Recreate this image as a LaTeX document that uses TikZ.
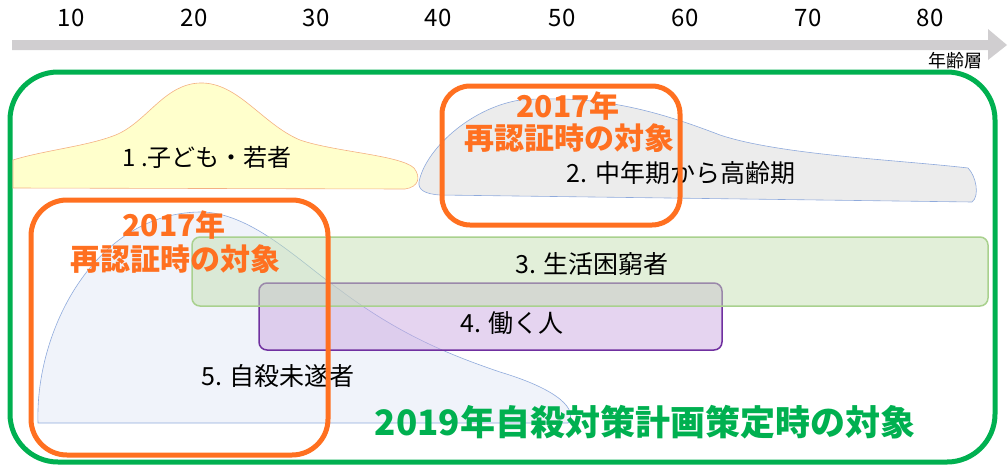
\documentclass[tikz,border=0pt]{standalone}
\usepackage{fontspec}
\setmainfont{Noto Sans CJK JP}
\definecolor{axisgray}{RGB}{208,206,208}
\definecolor{bigGreen}{RGB}{0,176,80}
\definecolor{hiOrange}{RGB}{255,112,32}
\definecolor{yelFill}{RGB}{255,255,204}
\definecolor{yelLine}{RGB}{244,177,131}
\definecolor{grayFill}{RGB}{236,236,236}
\definecolor{blueLine}{RGB}{143,170,220}
\definecolor{blueFill}{RGB}{240,243,250}
\definecolor{grnFill}{RGB}{197,224,180}
\definecolor{grnLine}{RGB}{169,209,142}
\definecolor{purFill}{RGB}{203,169,225}
\definecolor{purLine}{RGB}{112,48,160}
\tikzset{
  tick/.style={font=\fontsize{24}{26}\selectfont, text=black},
  grp/.style={font=\fontsize{25}{28}\selectfont, text=black},
  orangelbl/.style={font=\bfseries\fontsize{30}{34}\selectfont, text=hiOrange, align=center},
  orangebox/.style={draw=hiOrange, line width=5pt, rounded corners=28pt},
  shapeline/.style={line width=0.6pt}
}
\begin{document}
\begin{tikzpicture}[x=1pt,y=-1pt]
\useasboundingbox (0,0) rectangle (1008,466);
% axis
\fill[axisgray] (12,40) -- (988,40) -- (988,29) -- (1007,45) -- (988,60) -- (988,50) -- (12,50) -- cycle;
\foreach \v/\xx in {10/71,20/194,30/316,40/438,50/562,60/685,70/808,80/930}
  \node[tick] (t\v) at (\xx,18) {\v};
\node[font=\fontsize{18}{20}\selectfont] (age) at (955,61) {年齢層};
% green frame
\draw[bigGreen, line width=5pt, rounded corners=48pt] (10,72) rectangle (995,462);
% 1 yellow
\draw[shapeline, draw=yelLine, fill=yelFill]
 (13,160) .. controls (45,150) and (90,146) .. (118,134)
 .. controls (148,120) and (165,84) .. (200,83)
 .. controls (238,82) and (262,124) .. (300,140)
 .. controls (335,152) and (400,155) .. (414,168)
 .. controls (421,177) and (419,187) .. (405,189)
 -- (13,188) -- cycle;
\node[grp, font=\fontsize{24}{28}\selectfont] (g1) at (207,157) {1 .子ども・若者};
% 2 gray
\draw[shapeline, draw=blueLine, fill=grayFill]
 (419,182) .. controls (425,150) and (470,108) .. (520,100)
 .. controls (600,94) and (660,112) .. (720,135)
 .. controls (780,155) and (900,160) .. (968,168)
 .. controls (976,176) and (980,196) .. (972,202)
 -- (440,195) .. controls (425,194) and (418,190) .. (419,182) -- cycle;
\node[grp] (g2) at (681,173) {2. 中年期から高齢期};
% 5 blue
\draw[shapeline, draw=blueLine, fill=blueFill]
 (38,423) .. controls (35,330) and (95,214) .. (199,212)
 .. controls (250,211) and (300,262) .. (340,290)
 .. controls (400,335) and (450,355) .. (500,372)
 .. controls (560,390) and (578,410) .. (568,423) -- cycle;
\node[grp] (g5) at (278,376) {5. 自殺未遂者};
% 4 purple
\draw[line width=1.5pt, draw=purLine, fill=purFill, fill opacity=0.5, rounded corners=8pt] (259,283) rectangle (722,350);
% 3 green
\draw[line width=1.5pt, draw=grnLine, fill=grnFill, fill opacity=0.5, rounded corners=8pt] (192,237) rectangle (988,306);
\node[grp] (g3) at (592,264) {3. 生活困窮者};
\node[grp] (g4) at (512,323) {4. 働く人};
% orange boxes
\draw[orangebox] (442,86) rectangle (680,225);
\draw[orangebox, rounded corners=36pt] (31,200) rectangle (328,455);
\node[orangelbl] (o1a) at (568,106) {2017年};
\node[orangelbl] (o1b) at (569,138) {再認証時の対象};
\node[orangelbl] (o2a) at (174,225) {2017年};
\node[orangelbl] (o2b) at (175,259) {再認証時の対象};
% big label
\node[font=\bfseries\fontsize{35}{40}\selectfont, text=bigGreen] (big) at (645,422) {2019年自殺対策計画策定時の対象};
\end{tikzpicture}
\end{document}
